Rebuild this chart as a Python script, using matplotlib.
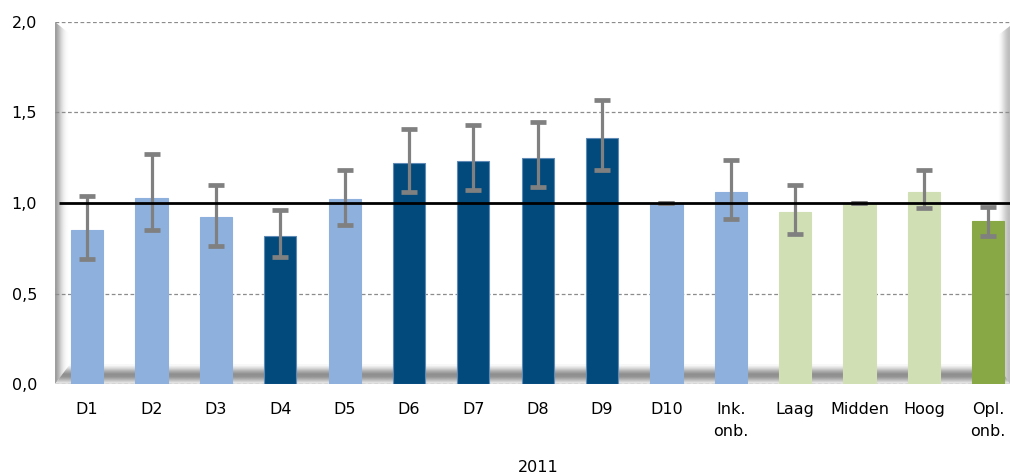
import matplotlib
matplotlib.use('Agg')
import matplotlib.pyplot as plt
import numpy as np
from matplotlib.patches import Polygon

categories = ['D1', 'D2', 'D3', 'D4', 'D5', 'D6', 'D7', 'D8', 'D9', 'D10',
              'Ink.\nonb.', 'Laag', 'Midden', 'Hoog', 'Opl.\nonb.']
values = [0.85, 1.03, 0.92, 0.82, 1.02, 1.22, 1.23, 1.25, 1.36, 1.00,
          1.06, 0.95, 1.00, 1.06, 0.90]
err_low = [0.69, 0.85, 0.76, 0.70, 0.88, 1.06, 1.07, 1.09, 1.18, 1.00,
           0.91, 0.83, 1.00, 0.97, 0.82]
err_high = [1.04, 1.27, 1.10, 0.96, 1.18, 1.41, 1.43, 1.45, 1.57, 1.00,
            1.24, 1.10, 1.00, 1.18, 0.98]
groups = ['light', 'light', 'light', 'dark', 'light', 'dark', 'dark', 'dark', 'dark',
          'light', 'light', 'lgreen', 'lgreen', 'lgreen', 'green']
yticks = [0.0, 0.5, 1.0, 1.5, 2.0]
ytick_labels = ['0,0', '0,5', '1,0', '1,5', '2,0']
xlabel = '2011'
reference = 1.0

colors = {'light': '#8DB0DD', 'dark': '#024A7C', 'lgreen': '#D0DFB4', 'green': '#88A846'}
edges = {'light': '#8DB0DD', 'dark': '#5F8AB5', 'lgreen': '#D0DFB4', 'green': '#88A846'}

plt.rcParams['font.family'] = ['DejaVu Sans']

W, H = 1010, 473
fig = plt.figure(figsize=(W / 100, H / 100), dpi=100)
ax_l, ax_b, ax_w, ax_h = 55, 89, 955, 362
ax = fig.add_axes([ax_l / W, ax_b / H, ax_w / W, ax_h / H])
for s in ax.spines.values():
    s.set_visible(False)

def px(xp, yp):
    return ((xp - ax_l) / ax_w, (H - ax_b - yp) / ax_h)

def grad_poly(pts, arr, extent):
    poly = Polygon([px(*p) for p in pts], closed=True, transform=ax.transAxes,
                   facecolor='none', edgecolor='none')
    ax.add_patch(poly)
    im = ax.imshow(arr, cmap='gray', vmin=0, vmax=1, extent=extent,
                   transform=ax.transAxes, aspect='auto', zorder=0.5,
                   interpolation='bilinear')
    im.set_clip_path(poly)

# left wall (horizontal gradient)
lw_g = np.array([[0.62, 0.72, 0.84, 0.93, 0.98, 1.0]])
x0, y0 = px(55, 384); x1, y1 = px(70, 22)
grad_poly([(55, 22), (70, 34), (70, 365), (55, 384)], lw_g, (x0, x1, y0, y1))
# floor (vertical gradient, top row first)
fl_g = np.array([[0.97], [0.85], [0.68], [0.56], [0.58], [0.72], [0.88]])
x0, y0 = px(55, 384); x1, y1 = px(1010, 364)
grad_poly([(55, 384), (70, 364), (1010, 364), (1010, 384)], fl_g, (x0, x1, y0, y1))
# right wall
rw_g = np.array([[1.0, 0.96, 0.88, 0.80, 0.74]])
x0, y0 = px(997, 384); x1, y1 = px(1010, 22)
grad_poly([(997, 36), (1010, 26), (1010, 384), (997, 364)], rw_g, (x0, x1, y0, y1))

x = np.arange(len(categories))
v = np.array(values)
lo = v - np.array(err_low)
hi = np.array(err_high) - v

ax.bar(x, values, width=0.5, color=[colors[g] for g in groups],
       edgecolor=[edges[g] for g in groups], linewidth=0.8, zorder=2)

for yt in yticks:
    if yt != reference:
        ax.axhline(yt, color='#8C8C8C', lw=0.9, dashes=(3, 2), zorder=1)

eb = ax.errorbar(x, values, yerr=[lo, hi], fmt='none', ecolor='#808080',
                 elinewidth=2.3, capsize=5.5, capthick=3.4, zorder=3)
caps = eb[1]
caps[0].set_color('#7F7F7F')
caps[1].set_color('#A6A6A6')

ax.plot([-0.44, 15], [reference, reference], color='black', lw=2, zorder=4,
        solid_capstyle='butt')

ax.set_xlim(-0.5, -0.5 + ax_w / 64.36)
ax.set_ylim(0, 2.0)
ax.set_xticks(x)
ax.set_xticklabels(categories, fontsize=11.5, linespacing=1.55)
ax.set_yticks(yticks)
ax.set_yticklabels(ytick_labels, fontsize=11.5)
ax.tick_params(axis='both', length=0)
ax.tick_params(axis='x', pad=13)
ax.tick_params(axis='y', pad=13)
fig.text(538 / W, 1 - 467 / H, xlabel, ha='center', va='center', fontsize=11.5)

fig.savefig('out.png', dpi=100)
